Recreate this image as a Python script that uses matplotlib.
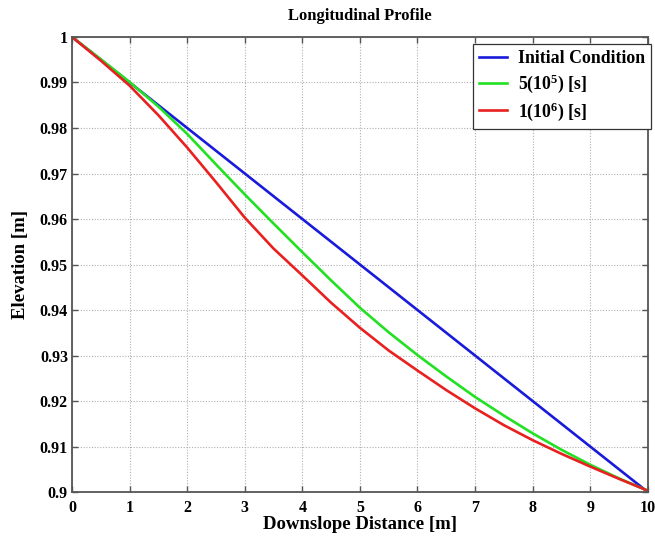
import matplotlib
matplotlib.use("Agg")
import matplotlib.pyplot as plt
from matplotlib.ticker import FuncFormatter

# Data
x = [0, 0.5, 1, 1.5, 2, 2.5, 3, 3.5, 4, 4.5, 5, 5.5, 6, 6.5, 7, 7.5, 8, 8.5, 9, 9.5, 10]
initial = [1.0, 0.995, 0.99, 0.985, 0.98, 0.975, 0.97, 0.965, 0.96, 0.955, 0.95,
           0.945, 0.94, 0.935, 0.93, 0.925, 0.92, 0.915, 0.91, 0.905, 0.90]
t_5e5 = [1.0, 0.9951, 0.9901, 0.9847, 0.9787, 0.9720, 0.9654, 0.9590, 0.9527, 0.9465, 0.9405,
         0.9351, 0.9301, 0.9254, 0.9209, 0.9168, 0.9129, 0.9093, 0.9060, 0.9030, 0.9003]
t_1e6 = [1.0, 0.9948, 0.9893, 0.9828, 0.9757, 0.9681, 0.9603, 0.9535, 0.9476, 0.9416, 0.9361,
         0.9311, 0.9267, 0.9224, 0.9184, 0.9147, 0.9114, 0.9084, 0.9056, 0.9029, 0.9003]

plt.rcParams['font.family'] = ['Liberation Serif', 'DejaVu Serif']
plt.rcParams['font.weight'] = 'bold'
plt.rcParams['mathtext.fontset'] = 'custom'
plt.rcParams['mathtext.rm'] = 'Liberation Serif:bold'
plt.rcParams['mathtext.it'] = 'Liberation Serif:bold'
plt.rcParams['mathtext.bf'] = 'Liberation Serif:bold'

fig = plt.figure(figsize=(6.55, 5.36), dpi=100)
ax = fig.add_axes([0.110, 0.082, 0.879, 0.849])

ax.plot(x, initial, color="#1a1adb", linewidth=1.9, label="Initial Condition")
ax.plot(x, t_5e5, color="#22e022", linewidth=1.9, label="5(10$^{5}$) [s]")
ax.plot(x, t_1e6, color="#e82020", linewidth=1.9, label="1(10$^{6}$) [s]")

ax.set_xlim(0, 10)
ax.set_ylim(0.9, 1.0)
ax.set_xticks(range(0, 11))
ax.set_yticks([0.9 + 0.01 * i for i in range(11)])
ax.yaxis.set_major_formatter(FuncFormatter(lambda v, p: f"{v:.2f}".rstrip("0").rstrip(".")))
ax.tick_params(direction="in", top=True, right=True, labelsize=11.5, length=4,
               color="#555555", width=1.0)
ax.tick_params(axis="y", pad=3)
ax.tick_params(axis="x", pad=6)
for lbl in ax.get_xticklabels() + ax.get_yticklabels():
    lbl.set_fontweight("bold")

ax.grid(True, color="#b0b0b0", linestyle=(0, (1, 1.5)), linewidth=0.8)
for s in ax.spines.values():
    s.set_color("#555555")
    s.set_linewidth(1.3)

ax.set_title("Longitudinal Profile", fontsize=12, fontweight="bold", pad=12)
ax.set_xlabel("Downslope Distance [m]", fontsize=13.5, fontweight="bold", labelpad=0)
ax.set_ylabel("Elevation [m]", fontsize=13.5, fontweight="bold", labelpad=8)

leg = ax.legend(loc="upper right", bbox_to_anchor=(1.006, 0.985), fontsize=12.8,
                fancybox=False, framealpha=1, edgecolor="#333333", borderaxespad=0,
                handlelength=1.6, handletextpad=0.6, labelspacing=0.3, borderpad=0.35)
leg.get_frame().set_linewidth(0.9)
for t in leg.get_texts():
    t.set_fontweight("bold")

fig.savefig("out.png", dpi=100)
